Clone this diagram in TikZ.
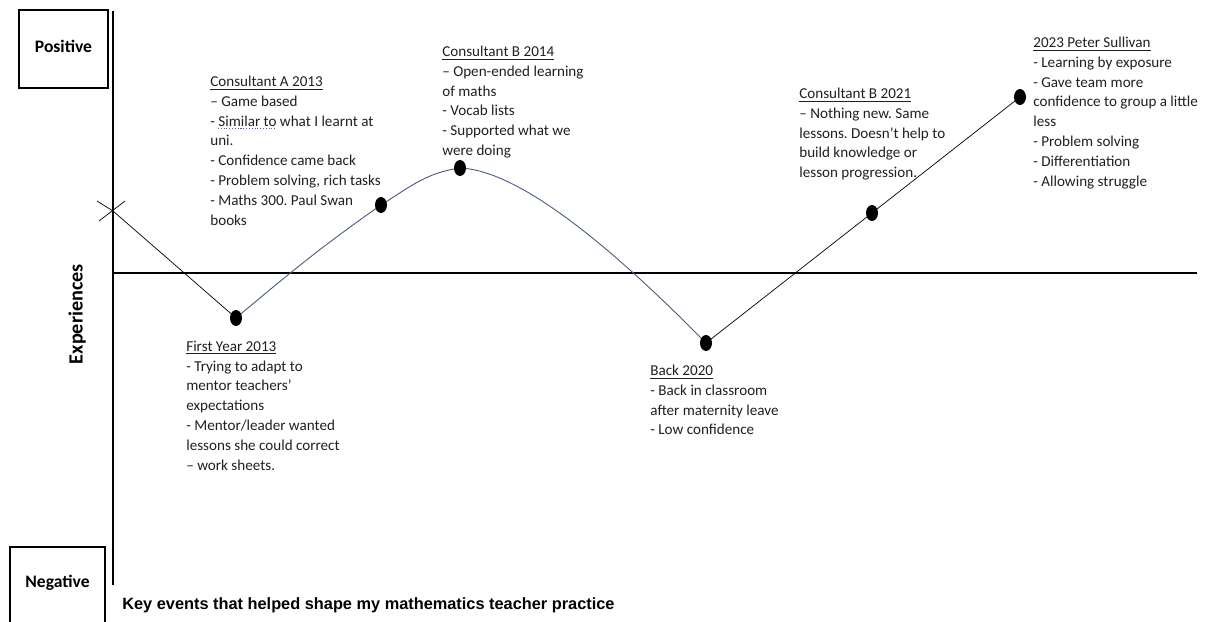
\documentclass[tikz,border=0pt]{standalone}
\usepackage{fontspec}
\setmainfont{Carlito}
\newfontfamily\arialfont{Liberation Sans}
\usetikzlibrary{shapes.geometric}
\definecolor{curveblue}{RGB}{68,88,126}
\definecolor{spellblue}{RGB}{80,80,230}
\frenchspacing

\begin{document}
\begin{tikzpicture}[x=0.02cm, y=-0.02cm,
  dot/.style={ellipse, fill=black, minimum width=0.24cm, minimum height=0.32cm, inner sep=0pt},
  note/.style={anchor=north west, align=left, inner sep=0pt, text=black!88, font=\fontsize{8.6}{11.3}\selectfont, execute at begin node=\strut},
  sidetext/.style={inner sep=0pt, font=\bfseries\fontsize{10}{12}\selectfont}]
\useasboundingbox (0,0) rectangle (1207,622);

%Boxes
\draw [line width=0.6pt] (19,10) rectangle (108,88);
\node [sidetext] (positive) at (63.5,46) {Positive};
\draw [line width=0.6pt] (10,622) -- (10,547) -- (105,547) -- (105,622);
\node [sidetext] (negative) at (57.5,583) {Negative};
\node [sidetext, rotate=90, font=\bfseries\fontsize{11.5}{13}\selectfont] (experiences) at (77,314) {Experiences};

%Axes
\draw [line width=0.6pt] (113,11) -- (113,585);
\draw [line width=0.6pt] (113,273) -- (1197,273);

%Key points
\coordinate (start) at (113,211);
\coordinate (first) at (236,318);
\coordinate (consA) at (381,205);
\coordinate (consB) at (460,168);
\coordinate (back) at (706,343);
\coordinate (consC) at (872,213);
\coordinate (sullivan) at (1020,97);

%Cross
\draw (97,201) -- (start);
\draw (125,201) -- (99,221);

%Lines
\draw (start) -- (first);
\draw [curveblue, line width=0.5pt] (first) to[out=40,in=-145] (consA) to[out=32,in=188] (consB) .. controls (510,170) and (590,225) .. (back);
\draw (back) -- (sullivan);

%Dots
\foreach \p in {first,consA,consB,back,consC,sullivan}
  \node [dot] (dot-\p) at (\p) {};

%Notes
\node [note] (noteA) at (210,75.5) {\underline{Consultant A 2013}\\-- Game based\\- Similar to what I learnt at\\uni.\\- Confidence came back\\- Problem solving, rich tasks\\- Maths 300. Paul Swan\\books};
\draw [spellblue, densely dotted, line width=0.6pt] (218,128.5) -- (277,128.5);
\node [note] (noteB) at (442,45.5) {\underline{Consultant B 2014}\\-- Open-ended learning\\of maths\\- Vocab lists\\- Supported what we\\were doing};
\node [note] (noteC) at (799,87.5) {\underline{Consultant B 2021}\\-- Nothing new. Same\\lessons. Doesn’t help to\\build knowledge or\\lesson progression.};
\node [note] (noteD) at (1033,36.5) {\underline{2023 Peter Sullivan}\\- Learning by exposure\\- Gave team more\\confidence to group a little\\less\\- Problem solving\\- Differentiation\\- Allowing struggle};
\node [note] (noteE) at (186,340.5) {\underline{First Year 2013}\\- Trying to adapt to\\mentor teachers’\\expectations\\- Mentor/leader wanted\\lessons she could correct\\-- work sheets.};
\node [note] (noteF) at (650,364.5) {\underline{Back 2020}\\- Back in classroom\\after maternity leave\\- Low confidence};

%Title
\node [anchor=base west, inner sep=0pt, font=\arialfont\bfseries\fontsize{9.3}{11}\selectfont] (title) at (122,609) {Key events that helped shape my mathematics teacher practice};
\end{tikzpicture}
\end{document}
